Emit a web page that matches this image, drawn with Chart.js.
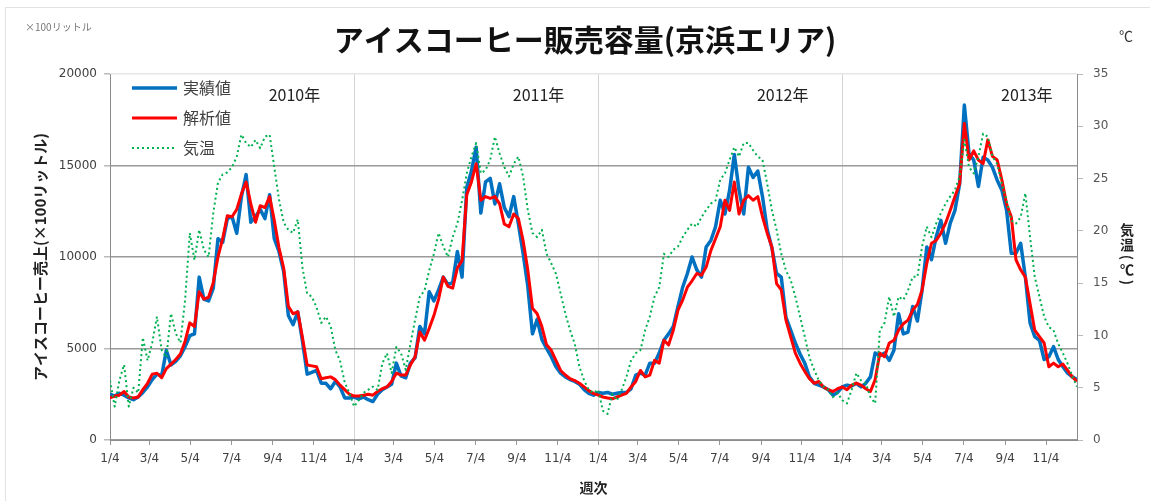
<!DOCTYPE html>
<html lang="ja">
<head>
<meta charset="utf-8">
<title>アイスコーヒー販売容量(京浜エリア)</title>
<script src="https://cdn.jsdelivr.net/npm/chart.js@4.4.1/dist/chart.umd.min.js"></script>
<style>
  html, body { margin: 0; padding: 0; background: #fff; }
  #wrap { width: 1150px; height: 501px; }
</style>
</head>
<body>
<div id="wrap"><canvas id="chart" width="1150" height="501"></canvas></div>
<script>
const TITLE = 'アイスコーヒー販売容量(京浜エリア)';
const UNIT_LEFT = '×100リットル';
const UNIT_RIGHT = '℃';
const Y_TITLE = 'アイスコーヒー売上(×100リットル)';
const Y2_TITLE = '気温(℃)';
const X_TITLE = '週次';
const SERIES_NAMES = ['実績値', '解析値', '気温'];

const YEARS = ['2010年', '2011年', '2012年', '2013年'];
// week index where each year starts (1/4)
const YEAR_STARTS = [0, 52, 104, 156];
const MONTH_OFFSETS = [0, 8.4, 17.1, 25.9, 34.7, 43.4];
const MONTH_LABELS = ['1/4', '3/4', '5/4', '7/4', '9/4', '11/4'];

// weekly sales, x100 litre
const ACTUAL = [
  2500, 2400, 2550, 2450, 2300, 2200, 2350, 2600, 2900, 3300, 3600, 3500, 4900, 4100, 4300, 4600, 5100, 5700, 5800, 8900, 7700, 7600, 8300, 11000, 10800, 12100, 12200, 11300, 13300,
  14500, 11900, 12200, 12600, 12100, 13400, 11000, 10300, 9200, 6800, 6300, 7000, 5400, 3600, 3700, 3800, 3100, 3100, 2800, 3200, 2900, 2300, 2300,
  2350, 2250, 2350, 2200, 2100, 2500, 2750, 2900, 3050, 4200, 3500, 3400, 4200, 4500, 6200, 5800, 8100, 7600, 8200, 8900, 8500, 8600, 10300, 8900,
  13800, 14700, 16000, 12400, 14100, 14300, 12900, 14000, 12700, 12200, 13300, 11800, 10200, 8400, 5800, 6600, 5500, 5000, 4550, 4000, 3650, 3450, 3300, 3200, 3050, 2750, 2550, 2450,
  2600, 2550, 2600, 2500, 2550, 2600, 2600, 2800, 3550, 3650, 3550, 4200, 4200, 4750, 5450, 5800, 6200, 7300, 8350, 9100, 10000, 9300, 8900, 10550, 10900, 11650,
  13100, 12350, 13650, 15600, 13650, 12350, 14900, 14350, 14700, 13300, 11500, 10500, 9100, 8900, 6700, 6000, 5300, 4700, 4200, 3450, 3100, 3000, 2900, 2750, 2450, 2600,
  2900, 3000, 2950, 3100, 2900, 3100, 3450, 4750, 4600, 4750, 4350, 4900, 6900, 5800, 5900, 7300, 6500, 8200, 10550, 9850, 11100, 12000, 10750, 11850, 12550,
  14000, 18300, 15650, 15300, 13850, 15450, 15300, 14900, 14200, 13650, 12550, 10200, 10200, 10750, 8900, 6400, 5650, 5450, 4400, 4550, 5100, 4400, 4000, 3650, 3450, 3300
];

const FITTED = [
  2300, 2400, 2450, 2650, 2350, 2300, 2350, 2750, 3100, 3600, 3650, 3400, 3900, 4150, 4400, 4700, 5400, 6400, 6200, 8100, 7700, 7800, 8600, 10000, 11000, 12250, 12200, 12600, 13450,
  14100, 12900, 11900, 12800, 12700, 13300, 12000, 10500, 9400, 7300, 6900, 7000, 5600, 4100, 4050, 4000, 3350, 3400, 3450, 3300, 3000, 2750, 2500,
  2400, 2400, 2450, 2500, 2450, 2650, 2800, 2900, 3200, 3650, 3550, 3550, 4100, 4550, 5900, 5450, 6100, 6800, 7700, 8900, 8400, 8300, 9400, 9800,
  13400, 14100, 15100, 13100, 13300, 13200, 13300, 12900, 11800, 11650, 12350, 12100, 10900, 9300, 7200, 6900, 6200, 5200, 4900, 4350, 3800, 3550, 3350, 3250, 3100, 2900, 2700, 2550,
  2450, 2350, 2300, 2250, 2350, 2450, 2550, 2900, 3200, 3800, 3450, 3550, 4350, 4200, 5450, 5200, 6000, 7100, 7650, 8350, 8700, 9100, 9000, 9450, 10350, 11000,
  11650, 13100, 12550, 14100, 12350, 13100, 13350, 13100, 13300, 12200, 11300, 10550, 8550, 8200, 6550, 5650, 4750, 4200, 3750, 3350, 3100, 3200, 2900, 2750, 2650, 2800,
  2900, 2750, 3000, 3100, 3000, 2800, 2650, 3300, 4750, 4550, 5300, 5450, 6000, 6350, 6550, 7100, 7400, 8200, 9650, 10750, 10900, 11300, 11850, 12550, 13300,
  14000, 17300, 15300, 15800, 15300, 15100, 16400, 15500, 15300, 14200, 12900, 12200, 9850, 9300, 8900, 7450, 6000, 5650, 5300, 4000, 4200, 4000, 4150, 3800, 3450, 3200
];

// weekly mean temperature, deg C
const TEMP = [
  5.7, 3.2, 5.7, 7.2, 3.2, 5.0, 4.5, 9.8, 7.6, 9.3, 11.8, 8.6, 7.9, 12.1, 10.2, 9.3, 13.4, 19.8, 17.2, 20.1, 18.2, 17.5, 21.7, 24.6, 25.4, 25.6,
  26.1, 27.1, 29.2, 28.4, 28.0, 28.7, 27.9, 29.0, 29.2, 26.1, 23.0, 20.8, 20.1, 19.8, 21.1, 16.5, 14.0, 13.7, 12.7, 11.2, 11.8, 10.9, 8.6, 7.6, 5.5, 4.5,
  3.2, 3.8, 4.5, 4.8, 5.1, 4.8, 7.3, 8.3, 6.4, 8.9, 8.3, 6.7, 9.2, 11.5, 13.7, 14.3, 16.2, 17.8, 19.8, 18.5, 17.5, 19.4, 20.7, 22.9, 25.5, 27.1,
  28.4, 25.5, 25.8, 26.8, 29.0, 27.4, 26.1, 25.2, 26.4, 27.1, 25.2, 22.0, 19.8, 19.4, 20.1, 17.8, 16.9, 15.9, 14.0, 12.1, 10.5, 9.2, 7.0, 5.7, 4.8, 4.5,
  4.8, 2.8, 2.5, 4.4, 3.8, 4.8, 6.0, 7.6, 8.3, 8.6, 10.5, 11.8, 13.7, 14.6, 17.8, 17.5, 18.2, 18.5, 19.4, 20.1, 20.7, 20.4, 21.3, 22.0, 22.6, 22.9,
  24.9, 25.5, 26.8, 28.0, 27.1, 28.4, 28.4, 27.7, 27.1, 26.8, 24.5, 22.0, 20.1, 17.8, 16.2, 15.3, 13.7, 11.8, 9.9, 7.9, 6.7, 5.7, 5.1, 4.8, 4.1, 4.5,
  3.8, 3.5, 4.8, 6.4, 5.7, 5.4, 4.1, 3.5, 10.5, 11.2, 13.7, 11.8, 13.7, 13.4, 14.3, 15.6, 15.6, 18.5, 20.4, 19.4, 20.7, 21.7, 22.6, 23.3, 23.9,
  25.2, 28.7, 26.1, 25.5, 27.1, 29.3, 29.0, 27.1, 26.4, 24.5, 22.9, 21.0, 20.7, 21.3, 23.6, 19.4, 15.6, 13.7, 11.8, 10.8, 10.5, 9.2, 8.3, 7.3, 6.1, 5.1
];

const WEEKS = ACTUAL.map((_, i) => i);

const tickLabelAt = {};
YEAR_STARTS.forEach(start => {
  MONTH_OFFSETS.forEach((off, j) => {
    tickLabelAt[(start + off).toFixed(1)] = MONTH_LABELS[j];
  });
});

const JP = '"Noto Sans CJK JP", "Noto Sans", sans-serif';
const NUM = '"DejaVu Sans", sans-serif';

const overlay = {
  id: 'overlay',
  beforeDraw(chart) {
    const ctx = chart.ctx;
    ctx.save();
    ctx.fillStyle = '#fff';
    ctx.fillRect(0, 0, chart.width, chart.height);
    ctx.strokeStyle = '#e2e2e2';
    ctx.lineWidth = 1;
    ctx.strokeRect(5.5, 7.5, chart.width, chart.height);
    ctx.restore();
  },
  afterDraw(chart) {
    const ctx = chart.ctx;
    const xs = chart.scales.x;
    ctx.save();
    ctx.textBaseline = 'middle';

    ctx.fillStyle = '#111';
    ctx.font = 'bold 30px ' + JP;
    ctx.textAlign = 'center';
    ctx.fillText(TITLE, 585, 40);

    ctx.fillStyle = '#777';
    ctx.font = '10px ' + JP;
    ctx.textAlign = 'left';
    ctx.fillText(UNIT_LEFT, 25, 27);
    ctx.fillStyle = '#333';
    ctx.font = '14px ' + JP;
    ctx.fillText(UNIT_RIGHT, 1119, 36);

    // year names inside the plot
    ctx.fillStyle = '#222';
    ctx.font = '16px ' + JP;
    ctx.textAlign = 'center';
    YEARS.forEach((name, i) => {
      ctx.fillText(name, xs.getPixelForValue(YEAR_STARTS[i] + 39.3), 95);
    });

    // legend
    chart.data.datasets.forEach((ds, i) => {
      const y = 88 + i * 30;
      ctx.strokeStyle = ds.borderColor;
      ctx.lineWidth = ds.borderWidth;
      ctx.setLineDash(ds.borderDash || []);
      ctx.beginPath();
      ctx.moveTo(132, y);
      ctx.lineTo(177, y);
      ctx.stroke();
      ctx.setLineDash([]);
      ctx.fillStyle = '#404040';
      ctx.font = '16px ' + JP;
      ctx.textAlign = 'left';
      ctx.fillText(ds.label, 183, y);
    });

    // right axis title, written top to bottom
    ctx.fillStyle = '#222';
    ctx.font = 'bold 14px ' + JP;
    ctx.textAlign = 'center';
    let ty = 230, prevHalf = 0;
    for (const ch of Y2_TITLE) {
      const paren = ch === '(' || ch === ')';
      const half = paren ? 5 : 7.5;
      ty += prevHalf ? prevHalf + half : 0;
      prevHalf = half;
      if (paren) {
        ctx.save();
        ctx.translate(1127, ty);
        ctx.rotate(Math.PI / 2);
        ctx.fillText(ch, 0, 0);
        ctx.restore();
      } else {
        ctx.fillText(ch, 1127, ty);
      }
    }
    ctx.restore();
  }
};

new Chart(document.getElementById('chart'), {
  type: 'line',
  data: {
    labels: WEEKS,
    datasets: [
      {
        label: SERIES_NAMES[0],
        data: ACTUAL,
        yAxisID: 'y',
        borderColor: '#0070C0',
        borderWidth: 3.5,
        order: 2
      },
      {
        label: SERIES_NAMES[1],
        data: FITTED,
        yAxisID: 'y',
        borderColor: '#FF0000',
        borderWidth: 3,
        order: 1
      },
      {
        label: SERIES_NAMES[2],
        data: TEMP,
        yAxisID: 'y2',
        borderColor: '#00B050',
        borderWidth: 2,
        borderDash: [2, 3],
        order: 0
      }
    ]
  },
  options: {
    responsive: false,
    animation: false,
    devicePixelRatio: 1,
    layout: { padding: { top: 74, left: 0, right: 0, bottom: 0 } },
    elements: {
      point: { radius: 0 },
      line: { tension: 0, fill: false, borderJoinStyle: 'round' }
    },
    plugins: {
      legend: { display: false },
      title: { display: false },
      tooltip: { enabled: false }
    },
    scales: {
      x: {
        type: 'linear',
        min: 0,
        max: WEEKS.length - 1,
        afterFit: s => { s.height = 61; },
        afterBuildTicks: s => {
          const ticks = [];
          YEAR_STARTS.forEach(start => MONTH_OFFSETS.forEach(off => ticks.push({ value: start + off })));
          s.ticks = ticks;
        },
        ticks: {
          autoSkip: false,
          maxRotation: 0,
          padding: 7,
          color: '#404040',
          font: { family: NUM, size: 12 },
          callback: v => tickLabelAt[Number(v).toFixed(1)] || ''
        },
        grid: {
          color: c => (c.tick && c.tick.value > 0 && YEAR_STARTS.includes(c.tick.value)) ? '#d4d4d4' : 'rgba(0,0,0,0)',
          tickColor: '#999',
          tickLength: 5,
          lineWidth: 1
        },
        border: { color: '#8c8c8c', width: 1 },
        title: {
          display: true,
          text: X_TITLE,
          color: '#222',
          font: { family: JP, size: 14, weight: 'bold' },
          padding: { top: 0, bottom: 5 }
        }
      },
      y: {
        position: 'left',
        min: 0,
        max: 20000,
        afterFit: s => { s.width = 110; },
        ticks: {
          stepSize: 5000,
          padding: 7,
          color: '#404040',
          font: { family: NUM, size: 12 },
          callback: v => String(v)
        },
        grid: {
          color: c => c.tick.value === 20000 ? '#e6e6e6' : '#9a9a9a',
          tickColor: '#bbb',
          tickLength: 6,
          lineWidth: 1.5
        },
        border: { color: '#8c8c8c', width: 1 },
        title: {
          display: true,
          text: Y_TITLE,
          color: '#222',
          font: { family: JP, size: 15, weight: 'bold' },
          padding: { top: 31, bottom: 0 }
        }
      },
      y2: {
        position: 'right',
        min: 0,
        max: 35,
        afterFit: s => { s.width = 73; },
        ticks: {
          stepSize: 5,
          padding: 10,
          color: '#555',
          font: { family: NUM, size: 12 }
        },
        grid: {
          drawOnChartArea: false,
          tickColor: '#bbb',
          tickLength: 6
        },
        border: { color: '#8c8c8c', width: 1 }
      }
    }
  },
  plugins: [overlay]
});
</script>
</body>
</html>
